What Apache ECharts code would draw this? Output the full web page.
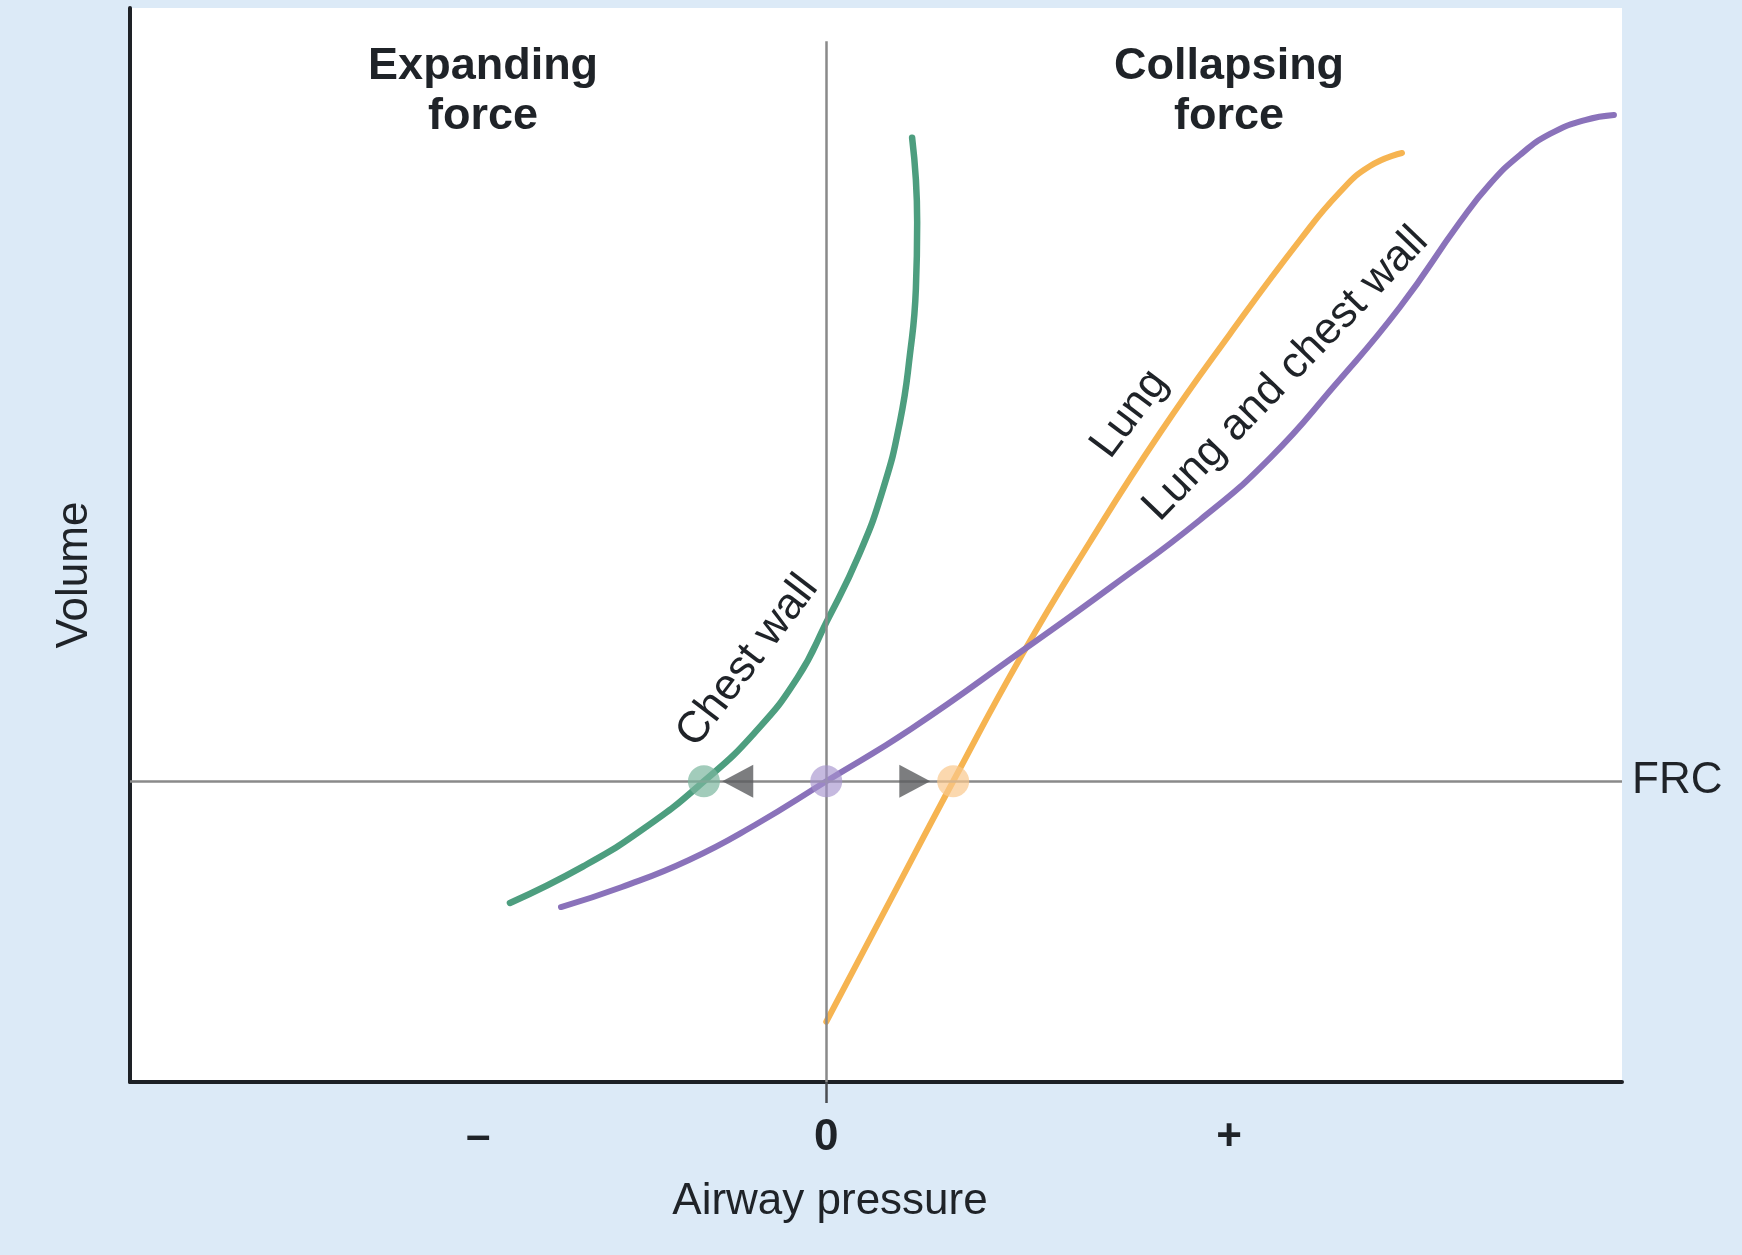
<!DOCTYPE html>
<html>
<head>
<meta charset="utf-8">
<script src="https://cdn.jsdelivr.net/npm/echarts@6/dist/echarts.min.js"></script>
<style>
html,body{margin:0;padding:0;background:#dceaf7;}
#chart{width:1742px;height:1255px;}
</style>
</head>
<body>
<div id="chart"></div>
<script>
// ---- data (x: airway pressure, arbitrary units; y: volume, arbitrary units) ----
const chestWall = [
  [-3.18,1.667],[-2.443,2.008],[-1.818,2.37],[-1.23,2.80],[-0.723,3.249],[-0.288,3.766],
  [0.003,4.284],[0.327,4.904],[0.572,5.524],[0.74,6.145],[0.84,6.765],[0.901,7.386],
  [0.914,8.006],[0.863,8.792]
];
const lung = [
  [0.0,0.561],[0.63,1.667],[1.276,2.80],[1.967,3.976],[2.651,5.028],[3.355,6.043],
  [4.059,6.965],[4.763,7.84],[5.165,8.287],[5.467,8.529],[5.788,8.65]
];
const lungAndChestWall = [
  [-2.667,1.629],[-2.054,1.816],[-1.38,2.067],[-0.717,2.393],[0.0,2.80],[0.852,3.287],
  [1.967,4.013],[2.862,4.609],[3.757,5.233],[4.461,5.81],[5.115,6.49],[5.768,7.216],
  [6.371,8.007],[6.672,8.361],[6.974,8.631],[7.276,8.827],[7.628,8.957],[7.919,9.004]
];
const frcVolume = 2.8;
const frcPressures = { chestWall: -1.23, both: 0, lung: 1.276 };
const arrowPressures = { left: -0.89, right: 0.89 };
const tickValues = [-3.5, 0, 4.05];
const tickLabels = ['\u2013', '0', '+'];
const regionTitles = ['Expanding\nforce', 'Collapsing\nforce'];
const zeroLineTop = 9.69;

const FONT = "'Liberation Sans', Arial, Helvetica, sans-serif";
const chart = echarts.init(document.getElementById('chart'));

const option = {
  backgroundColor: '#dceaf7',
  animation: false,
  grid: { left: 130, top: 8, right: 120, bottom: 173, show: true, backgroundColor: '#ffffff', borderWidth: 0 },
  xAxis: {
    type: 'value', min: -7, max: 8,
    axisLine: { show: true, onZero: false, lineStyle: { color: '#1e2126', width: 4 } },
    splitLine: { show: false },
    axisTick: { show: true, customValues: [0], length: 21, lineStyle: { color: '#4a4d52', width: 2.5 } },
    axisLabel: {
      show: true, customValues: tickValues, margin: 34,
      fontFamily: FONT, fontSize: 44, fontWeight: 'bold', color: '#1f2328',
      formatter: function (v) {
        const i = tickValues.findIndex(t => Math.abs(t - v) < 1e-6);
        return i >= 0 ? tickLabels[i] : '';
      }
    },
    name: 'Airway pressure', nameLocation: 'middle', nameGap: 98,
    nameTextStyle: { fontFamily: FONT, fontSize: 44, color: '#1f2328', padding: [0, 92, 0, 0] }
  },
  yAxis: {
    type: 'value', min: 0, max: 10,
    axisLine: { show: true, onZero: false, lineStyle: { color: '#1e2126', width: 4 } },
    splitLine: { show: false },
    axisTick: { show: false },
    axisLabel: { show: false },
    name: 'Volume', nameLocation: 'middle', nameGap: 33, nameRotate: 90,
    nameTextStyle: { fontFamily: FONT, fontSize: 44, color: '#1f2328', padding: [0, 60, 0, 0] }
  },
  series: [
    {
      type: 'line', data: [], z: 1, silent: true,
      markLine: {
        silent: true, symbol: 'none', animation: false,
        data: [
          [{ coord: [-7, frcVolume], lineStyle: { color: '#8a8a8a', width: 2.5, type: 'solid' },
             label: { show: true, position: 'end', formatter: 'FRC', distance: 10,
                      fontFamily: FONT, fontSize: 44, color: '#1f2328' } },
           { coord: [8, frcVolume] }],
          [{ coord: [0, zeroLineTop], lineStyle: { color: '#8a8a8a', width: 2.5, type: 'solid' }, label: { show: false } },
           { coord: [0, 0] }]
        ]
      }
    },
    {
      name: 'Chest wall', type: 'line', data: chestWall, smooth: 0.5, showSymbol: false, z: 3,
      lineStyle: { color: '#4d9e7f', width: 6.5, cap: 'round' }
    },
    {
      name: 'Lung', type: 'line', data: lung, smooth: 0.5, showSymbol: false, z: 3,
      lineStyle: { color: '#f6b451', width: 6, cap: 'round' }
    },
    {
      name: 'Lung and chest wall', type: 'line', data: lungAndChestWall, smooth: 0.5, showSymbol: false, z: 3,
      lineStyle: { color: '#8a72ba', width: 6, cap: 'round' }
    },
    {
      type: 'scatter', z: 5, silent: true,
      data: [
        { value: [frcPressures.chestWall, frcVolume], itemStyle: { color: 'rgba(122,183,158,0.88)' } },
        { value: [frcPressures.both, frcVolume], itemStyle: { color: 'rgba(165,145,205,0.8)' } },
        { value: [frcPressures.lung, frcVolume], itemStyle: { color: 'rgba(250,200,140,0.88)' } }
      ],
      symbol: 'circle', symbolSize: 32
    },
    {
      type: 'scatter', z: 5, silent: true,
      data: [
        { value: [arrowPressures.left, frcVolume], symbolRotate: 90 },
        { value: [arrowPressures.right, frcVolume], symbolRotate: -90 }
      ],
      symbol: 'triangle', symbolSize: [33, 31],
      itemStyle: { color: '#5b5c5f' }
    }
  ]
};
chart.setOption(option);

function px(x, y) { return chart.convertToPixel({ gridIndex: 0 }, [x, y]); }
function rotText(x, y, deg, text) {
  const p = px(x, y);
  return { type: 'text', x: p[0], y: p[1], rotation: deg * Math.PI / 180, z: 10,
    style: { text: text, font: '44px ' + FONT, fill: '#1f2328', align: 'center', verticalAlign: 'middle' } };
}
const t1 = px(-3.45, 9.22);
const t2 = px(4.05, 9.22);
chart.setOption({
  graphic: [
    { type: 'text', x: t1[0], y: t1[1], z: 10,
      style: { text: regionTitles[0], font: 'bold 45px ' + FONT, lineHeight: 50, fill: '#1f2328', align: 'center', verticalAlign: 'middle' } },
    { type: 'text', x: t2[0], y: t2[1], z: 10,
      style: { text: regionTitles[1], font: 'bold 45px ' + FONT, lineHeight: 50, fill: '#1f2328', align: 'center', verticalAlign: 'middle' } },
    rotText(-0.79, 3.92, 52.6, 'Chest wall'),
    rotText(3.05, 6.22, 53, 'Lung'),
    rotText(4.62, 6.59, 46, 'Lung and chest wall')
  ]
});
</script>
</body>
</html>
